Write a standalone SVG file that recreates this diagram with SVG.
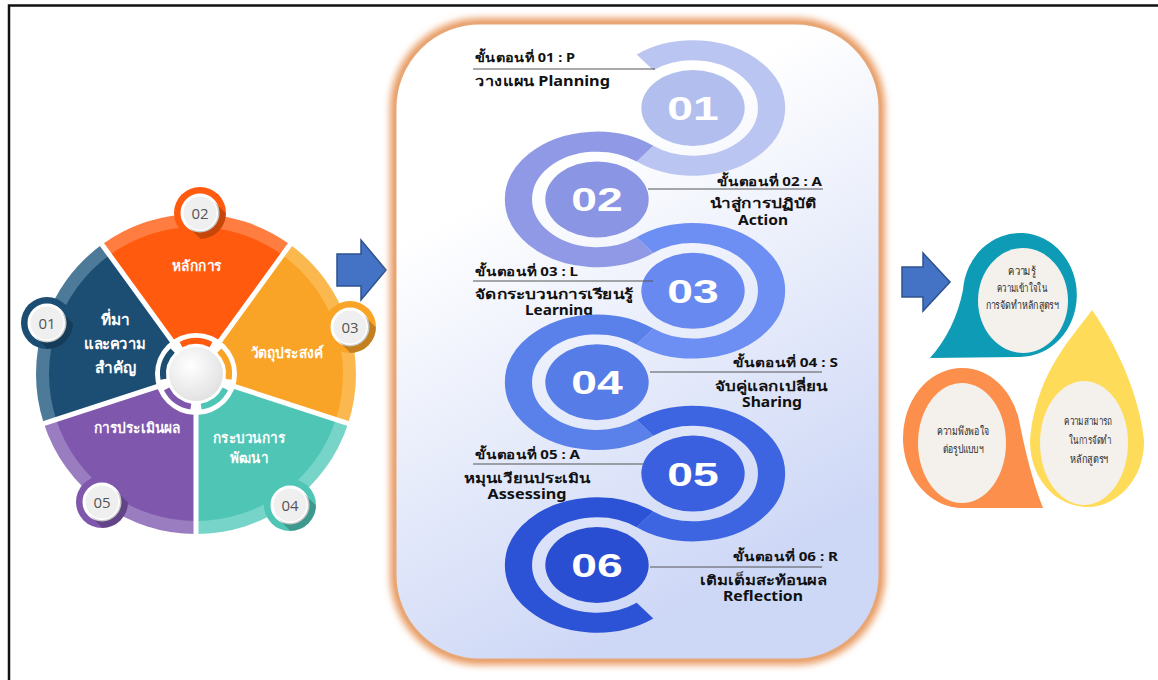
<svg xmlns="http://www.w3.org/2000/svg" width="1158" height="680" viewBox="0 0 1158 680">
<defs>
<style>
.th{font-family:"Noto Sans","DejaVu Sans","Liberation Sans",sans-serif}
.pl{fill:#fff;font-weight:bold;text-anchor:middle}
.nc{fill:#555;font-size:15px;text-anchor:middle;font-family:"Open Sans","Liberation Sans",sans-serif}
.hd{font-size:12.5px;font-weight:bold;fill:#111}
.bd{font-size:13.5px;font-weight:bold;fill:#111}
.ln{stroke:#555;stroke-width:1.2;fill:none}
.dt{font-size:11.5px;fill:#2a2a2a;text-anchor:middle}
.num{font-family:"Liberation Sans",Arial,sans-serif;font-weight:bold;font-size:34px;fill:#fff;text-anchor:middle}
.arr{fill:#4472c4;stroke:#2f528f;stroke-width:1.5}
.ring{fill:none;stroke-width:20}
.nsh{fill:#000;opacity:.22}
.nin{fill:#efefef;stroke:#fff;stroke-width:3}
.in{fill:#f4f0eb}
</style>
<clipPath id="cc"><circle r="26"/></clipPath>
<filter id="glow" x="-10%" y="-10%" width="120%" height="120%"><feGaussianBlur stdDeviation="3.5"/></filter>
<linearGradient id="pg" x1="0" y1="0" x2="0.4" y2="1"><stop offset="0.3" stop-color="#fff"/><stop offset="1" stop-color="#cdd7f6"/></linearGradient>
<radialGradient id="hubg" cx="0.4" cy="0.35" r="0.7"><stop offset="0" stop-color="#fff"/><stop offset="1" stop-color="#e0e0e0"/></radialGradient>
</defs>

<path d="M9,680 V5.5 H1158" fill="none" stroke="#111" stroke-width="2.5"/>

<!-- left pie -->
<g id="pie">
<path d="M196,374 L101.95,244.56 A160,160 0 0 1 290.05,244.56 Z" fill="#ff7d40"/>
<path d="M196,374 L290.05,244.56 A160,160 0 0 1 348.17,423.44 Z" fill="#fbb84f"/>
<path d="M196,374 L348.17,423.44 A160,160 0 0 1 196,534 Z" fill="#77d4c8"/>
<path d="M196,374 L196,534 A160,160 0 0 1 43.83,423.44 Z" fill="#9a7cc0"/>
<path d="M196,374 L43.83,423.44 A160,160 0 0 1 101.95,244.56 Z" fill="#4d7a98"/>
<path d="M196,374 L109.59,255.08 A147,147 0 0 1 282.41,255.08 Z" fill="#ff5a0d"/>
<path d="M196,374 L282.41,255.08 A147,147 0 0 1 335.81,419.43 Z" fill="#faa427"/>
<path d="M196,374 L335.81,419.43 A147,147 0 0 1 196,521 Z" fill="#4fc5b5"/>
<path d="M196,374 L196,521 A147,147 0 0 1 56.19,419.43 Z" fill="#7f58ad"/>
<path d="M196,374 L56.19,419.43 A147,147 0 0 1 109.59,255.08 Z" fill="#1c4e73"/>
<path d="M196,374 L96.07,236.47 M196,374 L295.93,236.47 M196,374 L357.69,426.53 M196,374 L196,544 M196,374 L34.31,426.53" stroke="#fff" stroke-width="5"/>
</g>
<g id="hub">
<circle cx="196" cy="374" r="41" fill="#fff"/>
<g fill="none" stroke-width="6">
<path d="M181.02,344.6 A33,33 0 0 1 210.98,344.6" stroke="#ff5a0d"/>
<path d="M219.33,350.67 A33,33 0 0 1 228.59,379.16" stroke="#faa427"/>
<path d="M225.4,388.98 A33,33 0 0 1 201.16,406.59" stroke="#4fc5b5"/>
<path d="M190.84,406.59 A33,33 0 0 1 166.6,388.98" stroke="#7f58ad"/>
<path d="M163.41,379.16 A33,33 0 0 1 172.67,350.67" stroke="#1c4e73"/>
</g>
<circle cx="196" cy="374" r="27" fill="url(#hubg)"/>
</g>
<g id="t01" class="th pl" font-size="15.5"><text x="115" y="325">ที่มา</text><text x="115" y="349" textLength="62" lengthAdjust="spacingAndGlyphs">และความ</text><text x="115" y="373">สำคัญ</text></g>
<g id="t02" class="th pl" font-size="14.5"><text x="197" y="271" textLength="50" lengthAdjust="spacingAndGlyphs">หลักการ</text></g>
<g id="t03" class="th pl" font-size="14.5"><text x="287" y="358" textLength="73" lengthAdjust="spacingAndGlyphs">วัตถุประสงค์</text></g>
<g id="t04" class="th pl" font-size="14.5"><text x="249" y="443" textLength="72" lengthAdjust="spacingAndGlyphs">กระบวนการ</text><text x="249" y="463" textLength="38" lengthAdjust="spacingAndGlyphs">พัฒนา</text></g>
<g id="t05" class="th pl" font-size="14.5"><text x="137" y="433" textLength="87" lengthAdjust="spacingAndGlyphs">การประเมินผล</text></g>

<g id="n01" transform="translate(47,323)"><circle r="26" fill="#1c4e73"/><circle class="nin" r="18"/><path class="nsh" clip-path="url(#cc)" d="M12.73,-12.73 A18,18 0 0 1 -12.73,12.73 L7.27,32.73 L32.73,7.27 Z"/><text class="nc" y="5.5">01</text></g>
<g id="n02" transform="translate(200,213)"><circle r="26" fill="#ff5a0d"/><circle class="nin" r="18"/><path class="nsh" clip-path="url(#cc)" d="M12.73,-12.73 A18,18 0 0 1 -12.73,12.73 L7.27,32.73 L32.73,7.27 Z"/><text class="nc" y="5.5">02</text></g>
<g id="n03" transform="translate(350,327)"><circle r="26" fill="#faa427"/><circle class="nin" r="18"/><path class="nsh" clip-path="url(#cc)" d="M12.73,-12.73 A18,18 0 0 1 -12.73,12.73 L7.27,32.73 L32.73,7.27 Z"/><text class="nc" y="5.5">03</text></g>
<g id="n04" transform="translate(290,505)"><circle r="26" fill="#4fc5b5"/><circle class="nin" r="18"/><path class="nsh" clip-path="url(#cc)" d="M12.73,-12.73 A18,18 0 0 1 -12.73,12.73 L7.27,32.73 L32.73,7.27 Z"/><text class="nc" y="5.5">04</text></g>
<g id="n05" transform="translate(102,502)"><circle r="26" fill="#7f58ad"/><circle class="nin" r="18"/><path class="nsh" clip-path="url(#cc)" d="M12.73,-12.73 A18,18 0 0 1 -12.73,12.73 L7.27,32.73 L32.73,7.27 Z"/><text class="nc" y="5.5">05</text></g>

<g id="connectors">
<path class="arr" d="M337,254 H361 V240 L386,270 L361,300 V286 H337 Z"/>
<path class="arr" d="M902,267 H923 V253 L950,282 L923,311 V297 H902 Z"/>
</g>

<!-- middle panel -->
<g id="panel">
<rect x="395" y="23" width="485" height="637" rx="85" fill="none" stroke="#e99b63" stroke-width="10" filter="url(#glow)"/>
<rect x="395" y="23" width="485" height="637" rx="85" fill="url(#pg)" stroke="#e8a675" stroke-width="3"/>
</g>

<g id="step01">
<g transform="translate(645,0) scale(1.36,1)"><path class="ring" stroke="#bac5f1" d="M0,62.3 A57.75,57.75 0 1 1 0,153.7"/><ellipse cx="35.3" cy="108" rx="38" ry="38" fill="#b2bfee"/><text class="num" x="35.3" y="120">01</text></g>
<text class="th hd" x="475" y="62" textLength="100" lengthAdjust="spacingAndGlyphs">ขั้นตอนที่ 01 : P</text><path class="ln" d="M473,69 H655"/><text class="th bd" x="475" y="86" textLength="135" lengthAdjust="spacingAndGlyphs">วางแผน Planning</text>
</g>
<g id="step02">
<g transform="translate(645,0) scale(1.36,1)"><path class="ring" stroke="#8f99e6" d="M0,153.7 A57.75,57.75 0 1 0 0,245.1"/><ellipse cx="-35.3" cy="199.4" rx="38" ry="38" fill="#8a95e3"/><text class="num" x="-35.3" y="211.4">02</text></g>
<text class="th hd" x="822" y="186" text-anchor="end" textLength="105" lengthAdjust="spacingAndGlyphs">ขั้นตอนที่ 02 : A</text><path class="ln" d="M648,189 H823"/><text class="th bd" x="763" y="208" text-anchor="middle" textLength="107" lengthAdjust="spacingAndGlyphs">นำสู่การปฏิบัติ</text><text class="th bd" x="763" y="225" text-anchor="middle" textLength="50" lengthAdjust="spacingAndGlyphs">Action</text>
</g>
<g id="step03">
<g transform="translate(645,0) scale(1.36,1)"><path class="ring" stroke="#6d8ef2" d="M0,245.1 A57.75,57.75 0 1 1 0,336.5"/><ellipse cx="35.3" cy="290.8" rx="38" ry="38" fill="#6889ef"/><text class="num" x="35.3" y="302.8">03</text></g>
<text class="th hd" x="475" y="276" textLength="103" lengthAdjust="spacingAndGlyphs">ขั้นตอนที่ 03 : L</text><path class="ln" d="M473,281 H653"/><text class="th bd" x="475" y="299" textLength="158" lengthAdjust="spacingAndGlyphs">จัดกระบวนการเรียนรู้</text><text class="th bd" x="559" y="315" text-anchor="middle" textLength="68" lengthAdjust="spacingAndGlyphs">Learning</text>
</g>
<g id="step04">
<g transform="translate(645,0) scale(1.36,1)"><path class="ring" stroke="#5a80ea" d="M0,336.5 A57.75,57.75 0 1 0 0,427.9"/><ellipse cx="-35.3" cy="382.2" rx="38" ry="38" fill="#567ce8"/><text class="num" x="-35.3" y="394.2">04</text></g>
<text class="th hd" x="838" y="367" text-anchor="end" textLength="105" lengthAdjust="spacingAndGlyphs">ขั้นตอนที่ 04 : S</text><path class="ln" d="M650,372 H822"/><text class="th bd" x="771" y="391" text-anchor="middle" textLength="113" lengthAdjust="spacingAndGlyphs">จับคู่แลกเปลี่ยน</text><text class="th bd" x="772" y="407" text-anchor="middle" textLength="60" lengthAdjust="spacingAndGlyphs">Sharing</text>
</g>
<g id="step05">
<g transform="translate(645,0) scale(1.36,1)"><path class="ring" stroke="#3d65e2" d="M0,427.9 A57.75,57.75 0 1 1 0,519.3"/><ellipse cx="35.3" cy="473.6" rx="38" ry="38" fill="#3a60df"/><text class="num" x="35.3" y="485.6">05</text></g>
<text class="th hd" x="475" y="459" textLength="105" lengthAdjust="spacingAndGlyphs">ขั้นตอนที่ 05 : A</text><path class="ln" d="M473,464 H643"/><text class="th bd" x="527" y="483" text-anchor="middle" textLength="127" lengthAdjust="spacingAndGlyphs">หมุนเวียนประเมิน</text><text class="th bd" x="527" y="499" text-anchor="middle" textLength="79" lengthAdjust="spacingAndGlyphs">Assessing</text>
</g>
<g id="step06">
<g transform="translate(645,0) scale(1.36,1)"><path class="ring" stroke="#2c52d6" d="M0,519.3 A57.75,57.75 0 1 0 0,610.7"/><ellipse cx="-35.3" cy="565" rx="38" ry="38" fill="#2a4ed2"/><text class="num" x="-35.3" y="577">06</text></g>
<text class="th hd" x="838" y="561" text-anchor="end" textLength="105" lengthAdjust="spacingAndGlyphs">ขั้นตอนที่ 06 : R</text><path class="ln" d="M650,567 H822"/><text class="th bd" x="763" y="585" text-anchor="middle" textLength="127" lengthAdjust="spacingAndGlyphs">เติมเต็มสะท้อนผล</text><text class="th bd" x="763" y="601" text-anchor="middle" textLength="80" lengthAdjust="spacingAndGlyphs">Reflection</text>
</g>

<!-- right drops -->
<g id="dropTeal">
<path d="M930,358 Q955,330 963,290 A57,62 0 1 1 1020,357 L930,358 Z" fill="#0e9bb5"/>
<ellipse class="in" cx="1023" cy="300.5" rx="45" ry="52.5"/>
<g class="th dt"><text x="1022" y="275" textLength="28" lengthAdjust="spacingAndGlyphs">ความรู้</text><text x="1022" y="292" textLength="50" lengthAdjust="spacingAndGlyphs">ความเข้าใจใน</text><text x="1022" y="309" textLength="73" lengthAdjust="spacingAndGlyphs">การจัดทำหลักสูตรฯ</text></g>
</g>
<g id="dropOrange">
<path d="M1043,508 L962,508 A59,70 0 1 1 1019,420 C1025,450 1032,480 1043,508 Z" fill="#fd8f4d"/>
<ellipse class="in" cx="962" cy="443" rx="44" ry="60"/>
<g class="th dt"><text x="963" y="435" textLength="53" lengthAdjust="spacingAndGlyphs">ความพึงพอใจ</text><text x="963" y="453" textLength="40" lengthAdjust="spacingAndGlyphs">ต่อรูปแบบฯ</text></g>
</g>
<g id="dropYellow">
<path d="M1092,310 C1070,340 1040,370 1031,430 A57,65 0 1 0 1144,440 C1140,400 1120,350 1092,310 Z" fill="#fedc5a"/>
<ellipse class="in" cx="1084" cy="443" rx="44" ry="62"/>
<g class="th dt"><text x="1088" y="425" textLength="48" lengthAdjust="spacingAndGlyphs">ความสามารถ</text><text x="1090" y="444" textLength="42" lengthAdjust="spacingAndGlyphs">ในการจัดทำ</text><text x="1089" y="463" textLength="38" lengthAdjust="spacingAndGlyphs">หลักสูตรฯ</text></g>
</g>
</svg>
